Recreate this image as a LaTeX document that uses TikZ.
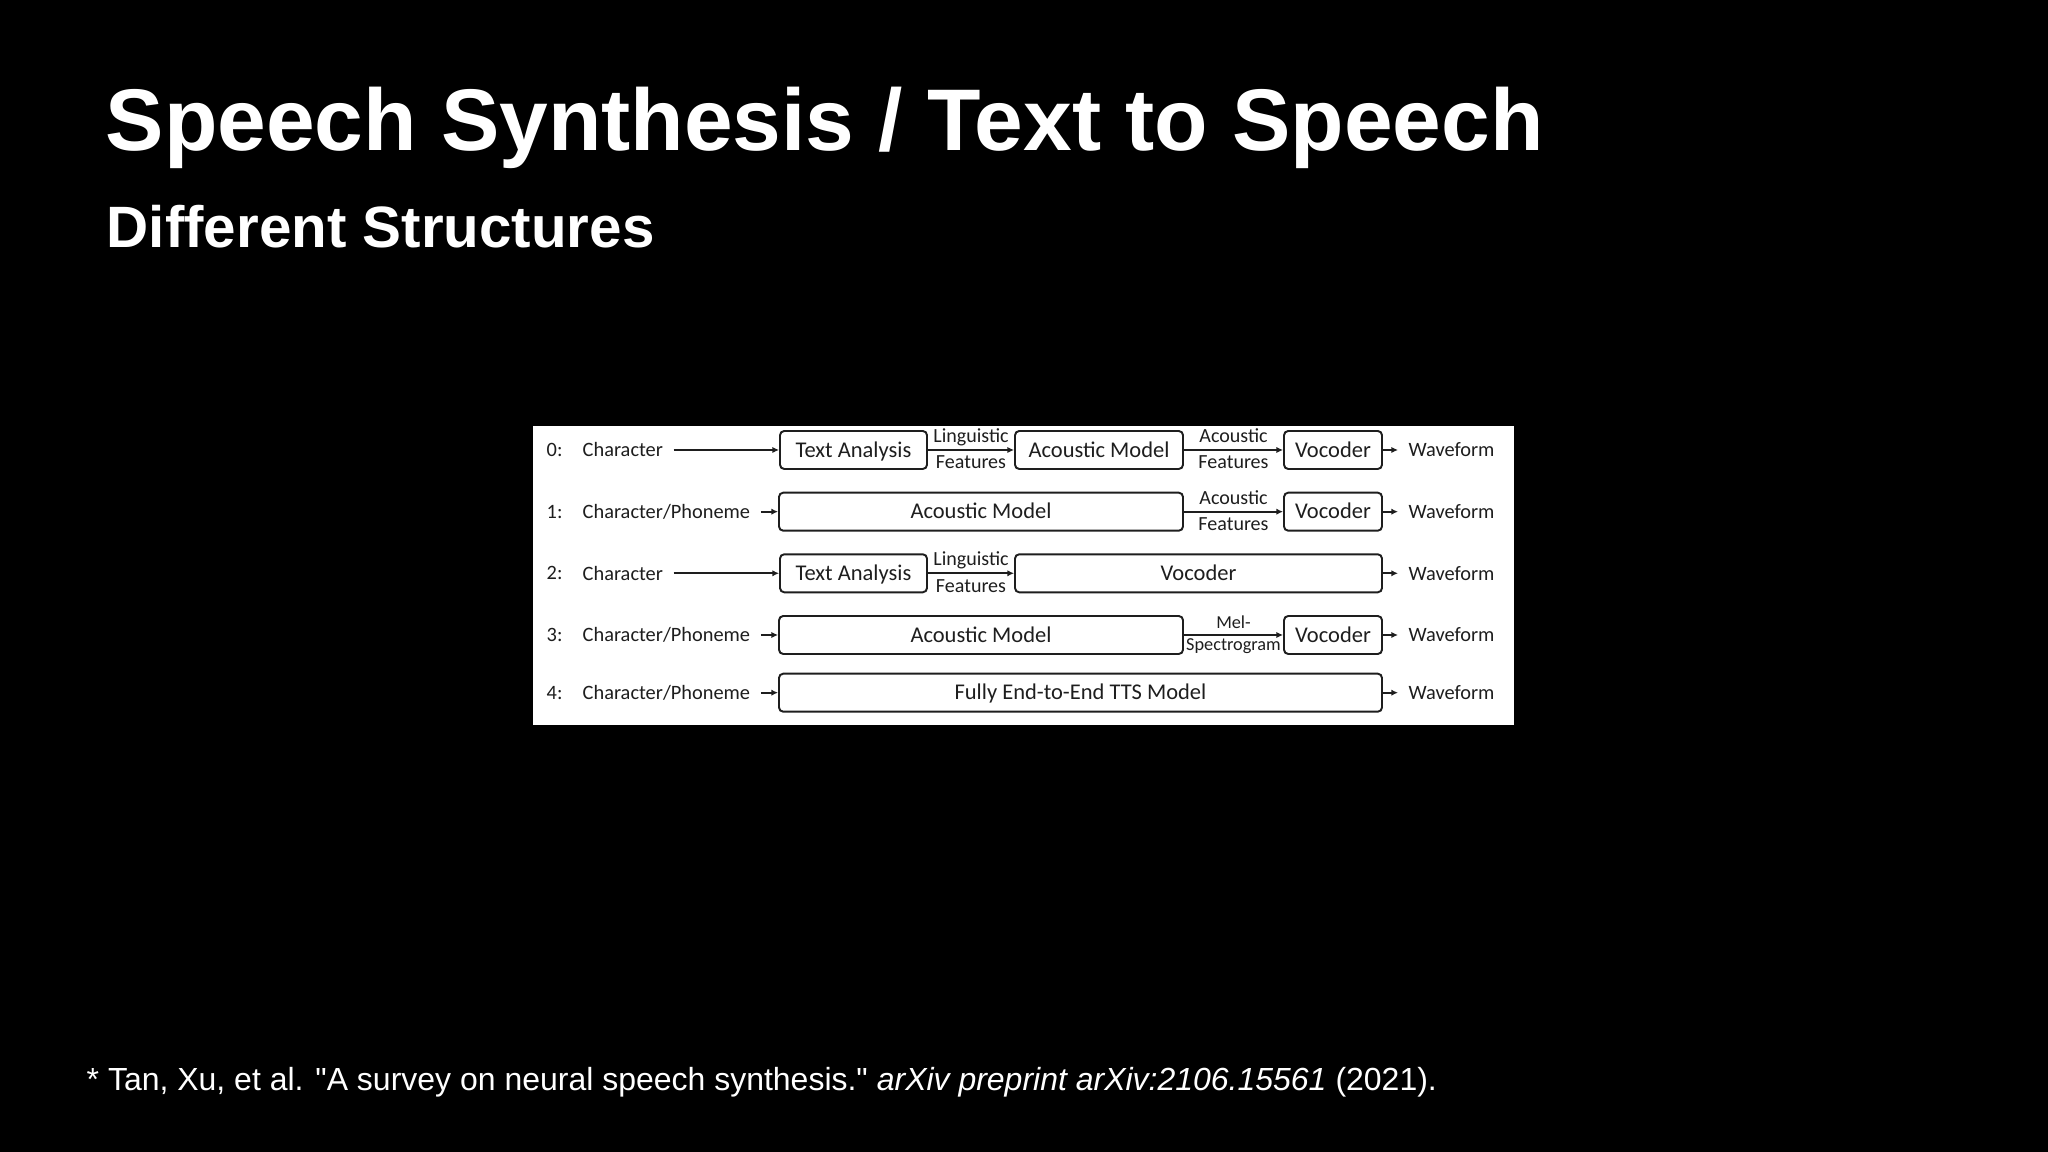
\documentclass[tikz,border=0pt]{standalone}
\usepackage{fontspec}
\setmainfont{Liberation Sans}[Ligatures=TeXOff]
\newfontfamily\diafont{Carlito}
\usetikzlibrary{arrows.meta}
\definecolor{inkgray}{HTML}{1E1E1E}

\begin{document}
\begin{tikzpicture}[x=0.1mm,y=-0.1mm,
  blk/.style={draw=inkgray, line width=0.55pt, rounded corners=1.2pt, minimum height=3.8mm, inner sep=0pt, text height=1.6mm, text depth=0.15mm, text=inkgray, font=\diafont\fontsize{6.4pt}{7pt}\selectfont},
  lbl/.style={anchor=west, inner xsep=1mm, inner ysep=0pt, text=inkgray, font=\diafont\fontsize{5.8pt}{7pt}\selectfont},
  flow/.style={draw=inkgray, line width=0.55pt, -{Latex[length=1.9pt,width=1.8pt]}},
  up/.style={pos=0.5, anchor=base, inner sep=0pt, yshift=0.75mm, text=inkgray, font=\diafont\fontsize{5.7pt}{7pt}\selectfont},
  down/.style={pos=0.5, anchor=base, inner sep=0pt, yshift=-1.9mm, text=inkgray, font=\diafont\fontsize{5.7pt}{7pt}\selectfont},
  tiny/.style={font=\diafont\fontsize{5.2pt}{6pt}\selectfont}]

\fill[black] (0,0) rectangle (2048,1152);
\useasboundingbox (0,0) rectangle (2048,1152);

\node[anchor=base west, inner sep=0pt, text=white, font=\bfseries\fontsize{24.9pt}{28pt}\selectfont] (title) at (105,151) {Speech Synthesis / Text to Speech};
\node[anchor=base west, inner sep=0pt, text=white, font=\bfseries\fontsize{16.6pt}{19pt}\selectfont] (sub) at (106,248) {Different Structures};

\fill[white] (533,426) rectangle (1514,725);

\foreach \i/\y in {0/450,1/511.7,2/573.3,3/635,4/692.7} {
  \node[lbl] (n\i) at (536,\y) {\i:};
  \node[lbl] (w\i) at (1398,\y) {Waveform};
}

\node[lbl] (c0) at (572,450) {Character};
\node[lbl] (c1) at (572,511.7) {Character/Phoneme};
\node[lbl] (c2) at (572,573.3) {Character};
\node[lbl] (c3) at (572,635) {Character/Phoneme};
\node[lbl] (c4) at (572,692.7) {Character/Phoneme};

\node[blk, minimum width=14.7mm] (ta0) at (853.5,450) {Text Analysis};
\node[blk, minimum width=16.8mm] (am0) at (1099,450) {Acoustic Model};
\node[blk, minimum width=9.8mm] (v0) at (1333,450) {Vocoder};
\node[blk, minimum width=40.4mm] (am1) at (981,511.7) {Acoustic Model};
\node[blk, minimum width=9.8mm] (v1) at (1333,511.7) {Vocoder};
\node[blk, minimum width=14.7mm] (ta2) at (853.5,573.3) {Text Analysis};
\node[blk, minimum width=36.7mm] (v2) at (1198.5,573.3) {Vocoder};
\node[blk, minimum width=40.4mm] (am3) at (981,635) {Acoustic Model};
\node[blk, minimum width=9.8mm] (v3) at (1333,635) {Vocoder};
\node[blk, minimum width=60.3mm] (e2e4) at (1080.5,692.7) {Fully End-to-End TTS Model};

\draw[flow] (c0) -- (ta0);
\draw[flow] (ta0) -- node[up] {Linguistic} node[down] {Features} (am0);
\draw[flow] (am0) -- node[up] {Acoustic} node[down] {Features} (v0);
\draw[flow] (c1) -- (am1);
\draw[flow] (am1) -- node[up] {Acoustic} node[down] {Features} (v1);
\draw[flow] (c2) -- (ta2);
\draw[flow] (ta2) -- node[up] {Linguistic} node[down] {Features} (v2);
\draw[flow] (c3) -- (am3);
\draw[flow] (am3) -- node[up, tiny, yshift=-0.12mm] {Mel-} node[down, tiny, yshift=0.3mm] {Spectrogram} (v3);
\draw[flow] (c4) -- (e2e4);

\foreach \i/\b in {0/v0,1/v1,2/v2,3/v3,4/e2e4}
  \draw[flow] (\b) -- (w\i);

\node[anchor=base west, inner sep=0pt, text=white, font=\fontsize{9.1pt}{11pt}\selectfont] (cite) at (86,1091) {* Tan, Xu, et al. "A survey on neural speech synthesis." \textit{arXiv preprint arXiv:2106.15561} (2021).};
\end{tikzpicture}
\end{document}
